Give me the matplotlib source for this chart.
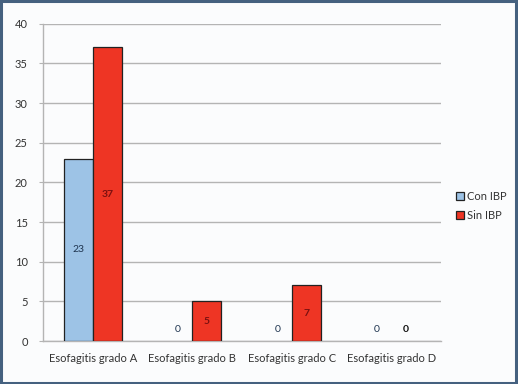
import numpy as np
import matplotlib.pyplot as plt
from matplotlib.patches import Rectangle

# datos
categorias = ['Esofagitis grado A', 'Esofagitis grado B', 'Esofagitis grado C', 'Esofagitis grado D']
con_ibp = [23, 0, 0, 0]
sin_ibp = [37, 5, 7, 0]

plt.rcParams['font.family'] = ['Lato', 'DejaVu Sans']

fig = plt.figure(figsize=(5.18, 3.84), dpi=100)
fig.patch.set_facecolor('#fbfcfd')
ax = fig.add_axes([43/518, 1 - 341/384, (441-43)/518, (341-23.7)/384])
ax.set_facecolor('#fbfcfd')

x = np.arange(len(categorias))
w = 0.29
lw1 = [0.9 if v > 0 else 0 for v in con_ibp]
lw2 = [0.9 if v > 0 else 0 for v in sin_ibp]
b1 = ax.bar(x - w/2, con_ibp, w, color='#9dc3e6', edgecolor='#222222', linewidth=lw1, label='Con IBP', zorder=3)
b2 = ax.bar(x + w/2, sin_ibp, w, color='#ee3524', edgecolor='#222222', linewidth=lw2, label='Sin IBP', zorder=3)

for xi, v in zip(x, con_ibp):
    y = v / 2 if v > 0 else 1.4
    ax.text(xi - w/2, y, str(v), ha='center', va='center', fontsize=7.5, color='#1f3550', zorder=4)
for xi, v in zip(x, sin_ibp):
    y = v / 2 if v > 0 else 1.4
    c = '#7a1010' if v > 0 else '#111111'
    ax.text(xi + w/2, y, str(v), ha='center', va='center', fontsize=7.5, color=c, fontweight='bold', zorder=4)

ax.set_xlim(-0.5, 3.5)
ax.set_ylim(0, 40)
ax.set_yticks(range(0, 41, 5))
ax.set_xticks(x)
ax.set_xticklabels(categorias)
ax.yaxis.grid(True, color='#b4b4b4', linewidth=1.0, zorder=0)
for s in ['top', 'right']:
    ax.spines[s].set_visible(False)
ax.spines['left'].set_color('#b4b4b4')
ax.spines['bottom'].set_color('#b4b4b4')
ax.spines['left'].set_linewidth(1.0)
ax.spines['bottom'].set_linewidth(1.0)
ax.tick_params(axis='y', length=3, color='#b4b4b4', labelsize=8, pad=8, labelcolor='#333333')
ax.tick_params(axis='x', length=0, labelsize=8, pad=9, labelcolor='#333333')

fig.legend(handles=[b1, b2], loc='center left', bbox_to_anchor=(446/518, 1 - 206/384),
           frameon=False, fontsize=8, handlelength=0.7, handleheight=0.7,
           handletextpad=0.3, labelspacing=0.7, labelcolor='#333333')

fig.add_artist(Rectangle((0.002, 0.003), 0.995, 0.994, transform=fig.transFigure,
                         fill=False, edgecolor='#45617f', linewidth=2.2))

plt.savefig('out.png', dpi=100, facecolor=fig.get_facecolor())
